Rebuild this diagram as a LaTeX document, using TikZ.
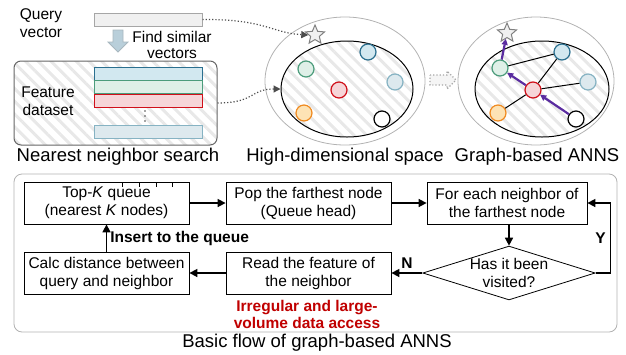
\documentclass[tikz,border=0pt]{standalone}
\usepackage{fontspec}
\setmainfont{Liberation Sans}
\usetikzlibrary{shapes.geometric,arrows.meta,patterns.meta}
\definecolor{vblue}{HTML}{2A6F8F}
\definecolor{vbluef}{HTML}{D2E8F0}
\definecolor{vgreen}{HTML}{4C9C7C}
\definecolor{vgreenf}{HTML}{DFF0E8}
\definecolor{vlight}{HTML}{86B3C3}
\definecolor{vlightf}{HTML}{DDE9EE}
\definecolor{vred}{HTML}{D0101A}
\definecolor{vredf}{HTML}{F6D5D8}
\definecolor{vorange}{HTML}{F08A20}
\definecolor{vorangef}{HTML}{FDE3B5}
\definecolor{vpurple}{HTML}{5A2CA0}
\definecolor{warn}{HTML}{C00000}
\definecolor{bigarrow}{HTML}{B9CFDA}
\begin{document}
\begin{tikzpicture}[x=1pt,y=-1pt,
	txt/.style={font=\fontsize{15.5}{18}\selectfont, align=center, inner sep=0pt},
	panelcap/.style={font=\fontsize{18.5}{21}\selectfont, inner sep=0pt},
	hatch/.style={pattern={Lines[angle=-45,distance=9pt,line width=3pt]}, pattern color=black!9},
	vec/.style={circle, draw, line width=1.2pt, minimum size=16pt, inner sep=0pt},
	row/.style={draw, line width=1pt, minimum width=108pt, minimum height=13pt, inner sep=0pt},
	star5/.style={star, star points=5, star point ratio=2.2, minimum size=20pt, inner sep=0pt, draw=gray, fill=gray!12, line width=1pt},
	box/.style={txt, draw, line width=0.8pt, minimum width=165pt, minimum height=42pt},
	flow/.style={line width=1.6pt, -{Triangle[length=8pt,width=8pt]}},
	link/.style={dotted, line width=1.2pt, black!70, -{Triangle[length=7pt,width=7pt]}},
	hop/.style={line width=2.2pt, vpurple, -{Triangle[length=6pt,width=6pt]}},
	lbl/.style={font=\bfseries\fontsize{15.5}{18}\selectfont, inner sep=0pt}]
	\useasboundingbox (0,0) rectangle (626,354);
	
	% nearest neighbor search
	\node[txt] (qtext) at (41,23) {Query\\vector};
	\node[row, draw=gray!70, fill=gray!12] (qv) at (148,19.5) {};
	\draw[draw=bigarrow!70!gray, fill=bigarrow, line width=0.8pt] (113,30) -- (123,30) -- (123,42) -- (128,42) -- (118,52) -- (108,42) -- (113,42) -- cycle;
	\node[txt, font=\fontsize{15.5}{16}\selectfont] (find) at (172,45) {Find similar\\vectors};
	\node[hatch, draw=black!60, line width=1pt, rounded corners=7pt, minimum width=203pt, minimum height=84pt] (fd) at (115.5,103) {};
	\node[txt] (fdtext) at (48,101) {Feature\\dataset};
	\node[row, draw=vblue, fill=vbluef] (r1) at (148,73.5) {};
	\node[row, draw=vgreen, fill=vgreenf] (r2) at (148,86.5) {};
	\node[row, draw=vred, fill=vredf] (r3) at (148,100.5) {};
	\foreach \y in {111,116,121} {
		\fill[black!70] (145,\y) circle (0.9);
	}
	\node[row, draw=vlight, fill=vlightf] (r4) at (148,131.5) {};
	\node[panelcap] (cap1) at (118,157) {Nearest neighbor search};
	
	% high-dimensional space
	\node[ellipse, draw=gray!60, line width=0.8pt, minimum width=160pt, minimum height=128pt] (outer1) at (345,81) {};
	\node[ellipse, hatch, draw, line width=1pt, minimum width=132pt, minimum height=96pt] (inner1) at (347,89) {};
	\node[star5] (s1) at (315,35) {};
	\node[vec, draw=vblue, fill=vbluef] (b1) at (368,52) {};
	\node[vec, draw=vgreen, fill=vgreenf] (g1) at (306,69) {};
	\node[vec, draw=vlight, fill=vlightf] (l1) at (395,82) {};
	\node[vec, draw=vred, fill=vredf] (d1) at (339,90) {};
	\node[vec, draw=vorange, fill=vorangef] (o1) at (304,113) {};
	\node[vec, fill=white] (k1) at (382,119) {};
	\node[panelcap] (cap2) at (345,157) {High-dimensional space};
	
	\draw[link] (qv.east) .. controls (265,19) and (272,33) .. (s1.west);
	\draw[link] (fd.east) .. controls (255,103) and (250,89) .. (inner1.west);
	
	\draw[draw=gray!70, dotted, line width=1.2pt, fill=gray!8] (430,75) -- (447,75) -- (447,71) -- (456,80) -- (447,89) -- (447,85) -- (430,85) -- cycle;
	
	% graph-based ANNS
	\node[ellipse, draw=gray!60, line width=0.8pt, minimum width=156pt, minimum height=128pt] (outer2) at (536,81) {};
	\node[ellipse, hatch, draw, line width=1pt, minimum width=134pt, minimum height=96pt] (inner2) at (542,89) {};
	\node[star5] (s2) at (507,33) {};
	\node[vec, draw=vblue, fill=vbluef] (b2) at (562,52) {};
	\node[vec, draw=vgreen, fill=vgreenf] (g2) at (500,68) {};
	\node[vec, draw=vlight, fill=vlightf] (l2) at (588,82) {};
	\node[vec, draw=vred, fill=vredf] (d2) at (533,90) {};
	\node[vec, draw=vorange, fill=vorangef] (o2) at (498,113) {};
	\node[vec, fill=white] (k2) at (576,119) {};
	\draw[line width=1pt] (g2) -- (b2);
	\draw[line width=1pt] (d2) -- (b2);
	\draw[line width=1pt] (d2) -- (l2);
	\draw[line width=1pt] (d2) -- (o2);
	\draw[hop] (k2) -- (d2);
	\draw[hop] (d2) -- (g2);
	\draw[hop] (g2) -- (s2);
	\node[panelcap] (cap3) at (537,157) {Graph-based ANNS};
	
	% basic flow
	\draw[gray!60, line width=0.8pt, rounded corners=8pt] (14,174) rectangle (617,332);
	\node[box] (topk) at (106.5,203) {Top-\textit{K} queue\\(nearest \textit{K} nodes)};
	\foreach \x in {122,139,156,172} {
		\draw[line width=0.6pt] (\x,182) -- (\x,187);
	}
	\node[box] (pop) at (308.5,203) {Pop the farthest node\\(Queue head)};
	\node[box, minimum width=160pt] (each) at (507,203) {For each neighbor of\\the farthest node};
	\node[diamond, txt, draw, line width=0.8pt, minimum width=163pt, minimum height=51pt, aspect=3.2] (seen) at (509,273) {Has it been\\visited?};
	\node[box] (read) at (308.5,273) {Read the feature of\\the neighbor};
	\node[box] (calc) at (106.5,273) {Calc distance between\\query and neighbor};
	
	\draw[flow] (topk) -- (pop);
	\draw[flow] (pop) -- (each);
	\draw[flow] (each.south -| seen.north) -- (seen.north);
	\draw[flow] (seen.east) -- ++(15,0) |- (each.east) node[lbl, pos=0.25, left=4pt] {Y};
	\draw[flow] (seen.west) -- (read.east) node[lbl, midway, above=4pt] {N};
	\draw[flow] (read) -- (calc);
	\draw[flow] (calc.north) -- (topk.south) node[lbl, midway, right=3pt] {Insert to the queue};
	\node[txt, font=\bfseries\fontsize{15.5}{17}\selectfont, text=warn] (irr) at (307,314) {Irregular and large-\\volume data access};
	\node[panelcap] (cap4) at (317,343) {Basic flow of graph-based ANNS};
\end{tikzpicture}
\end{document}
